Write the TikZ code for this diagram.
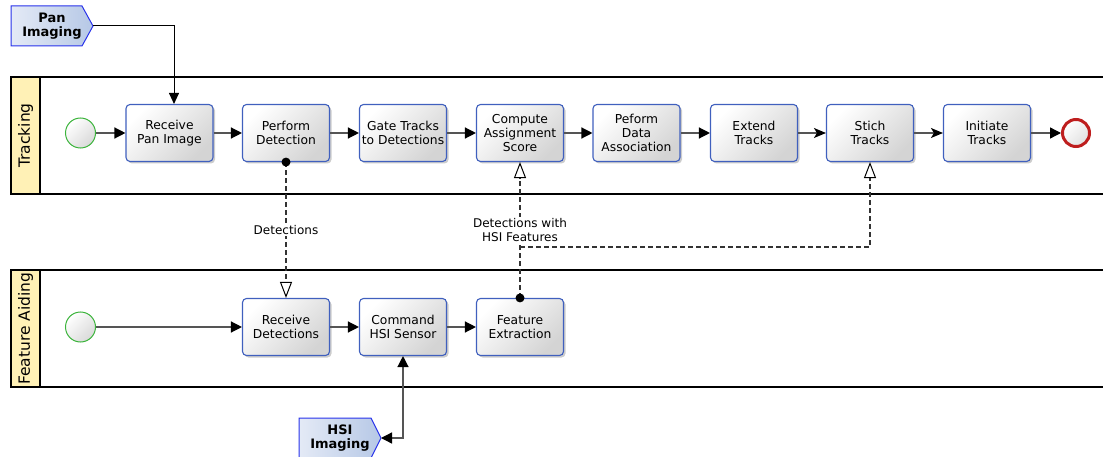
\documentclass[tikz,border=0pt]{standalone}
\usepackage{fontspec}
\setmainfont{DejaVu Sans}
\usetikzlibrary{arrows.meta,shadows}

\definecolor{taskborder}{RGB}{64,96,190}
\definecolor{databorder}{RGB}{40,50,235}
\definecolor{datalight}{RGB}{228,234,246}
\definecolor{datadark}{RGB}{182,200,230}
\definecolor{lanefill}{RGB}{255,241,182}
\definecolor{startgreen}{RGB}{60,180,60}
\definecolor{endred}{RGB}{190,30,30}
\definecolor{flowgray}{RGB}{85,85,85}

\newcommand{\taskfont}{\fontsize{12.3}{14}\selectfont}
\newcommand{\lanefont}{\fontsize{15.5}{17}\selectfont}
\newcommand{\datafont}{\fontsize{13}{14.5}\selectfont\bfseries}
\newcommand{\assocfont}{\fontsize{12}{14.5}\selectfont}

\begin{document}
\begin{tikzpicture}[x=1pt,y=-1pt,
  task/.style={draw=taskborder, line width=1.1pt, rounded corners=4pt,
    minimum width=87pt, minimum height=57pt, inner sep=0pt, align=center,
    font=\taskfont, top color=white, bottom color=black!17, shading angle=45,
    drop shadow={shadow xshift=2pt, shadow yshift=-2pt, opacity=0.2, fill=black}},
  startev/.style={circle, draw=startgreen, line width=1pt, minimum size=30pt,
    inner sep=0pt, top color=white, bottom color=black!15, shading angle=45},
  endev/.style={circle, draw=endred, line width=3pt, minimum size=27pt,
    inner sep=0pt, top color=white, bottom color=black!12, shading angle=45},
  datashape/.style={draw=databorder, line width=1pt, left color=datalight,
    right color=datadark},
  lanebox/.style={draw=black, line width=1.4pt},
  lanestrip/.style={draw=black, line width=1.4pt, fill=lanefill},
  flow/.style={draw=flowgray, line width=1.3pt,
    -{Triangle[length=11pt,width=11pt,color=black]}},
  flowsharp/.style={draw=flowgray, line width=1.3pt,
    -{Stealth[length=12pt,width=10pt,inset=3pt,color=black]}},
  assoc/.style={draw=black!80, line width=1.1pt, dash pattern=on 5pt off 3pt},
  opentip/.style={-{Triangle[open,length=16pt,width=12pt,line width=1pt,color=black]}},
  assoclabel/.style={fill=white, inner sep=1pt, align=center, font=\assocfont},
  dot/.style={fill=black}
]
\useasboundingbox (0,0) rectangle (1103,457);

% ---- swim lanes
\draw[lanebox] (11,77) rectangle (1112,194);
\draw[lanestrip] (11,77) rectangle (40,194);
\node[rotate=90, font=\lanefont] (trackinglabel) at (25.5,135.5) {Tracking};

\draw[lanebox] (11,270) rectangle (1112,387);
\draw[lanestrip] (11,270) rectangle (40,387);
\node[rotate=90, font=\lanefont] (aidinglabel) at (25.5,328.5) {Feature Aiding};

% ---- data inputs
\draw[datashape] (11,6) -- (82,6) -- (93,26) -- (82,46) -- (11,46) -- cycle;
\coordinate (pantip) at (93,26);
\node[font=\datafont, align=center] (pan) at (52,26) {Pan\\Imaging};

\draw[datashape] (299,418) -- (371,418) -- (381,438) -- (371,458) -- (299,458) -- cycle;
\coordinate (hsitip) at (381,438);
\node[font=\datafont, align=center] (hsi) at (340,438) {HSI\\Imaging};

% ---- tracking lane
\node[startev] (start1) at (80.5,133) {};
\node[task] (rpi) at (169.5,133) {Receive\\Pan Image};
\node[task] (pd)  at (286,133) {Perform\\Detection};
\node[task] (gt)  at (403,133) {Gate Tracks\\to Detections};
\node[task] (cas) at (520,133) {Compute\\Assignment\\Score};
\node[task] (pda) at (636.5,133) {Peform\\Data\\Association};
\node[task] (ext) at (754,133) {Extend\\Tracks};
\node[task] (sti) at (870,133) {Stich\\Tracks};
\node[task] (ini) at (987,133) {Initiate\\Tracks};
\node[endev] (end1) at (1076,133) {};

% ---- feature aiding lane
\node[startev] (start2) at (80.5,327) {};
\node[task] (rd)  at (286,327) {Receive\\Detections};
\node[task] (chs) at (403,327) {Command\\HSI Sensor};
\node[task] (fe)  at (520,327) {Feature\\Extraction};

% ---- sequence flows
\draw[flow] (start1) -- (rpi);
\draw[flow] (rpi) -- (pd);
\draw[flow] (pd) -- (gt);
\draw[flow] (gt) -- (cas);
\draw[flow] (cas) -- (pda);
\draw[flow] (pda) -- (ext);
\draw[flowsharp] (ext) -- (sti);
\draw[flowsharp] (sti) -- (ini);
\draw[flow] (ini) -- (end1);

\draw[flow] (start2) -- (rd);
\draw[flow] (rd) -- (chs);
\draw[flow] (chs) -- (fe);

% ---- data flows from the inputs
\draw[draw=black, line width=1pt, -{Triangle[length=11pt,width=10pt]}]
  (pantip) -| ([xshift=4.5pt]rpi.north);
\draw[draw=flowgray, line width=1.3pt,
  {Triangle[length=11pt,width=11pt,color=black]}-{Triangle[length=11pt,width=11pt,color=black]}]
  (chs.south) |- (hsitip);

% ---- associations between the lanes
\draw[assoc, opentip] (pd.south) -- node[assoclabel, pos=0.5] (detlabel) {Detections} (rd.north);
\fill[dot] (pd.south) circle (4.5);

\coordinate (branch) at (520,247);
\draw[assoc, opentip] (branch) -| (sti.south);
\draw[assoc, opentip] (fe.north) -- (cas.south);
\node[assoclabel] (hsilabel) at (520,230) {Detections with\\HSI Features};
\fill[dot] (fe.north) circle (4.5);
\end{tikzpicture}
\end{document}
